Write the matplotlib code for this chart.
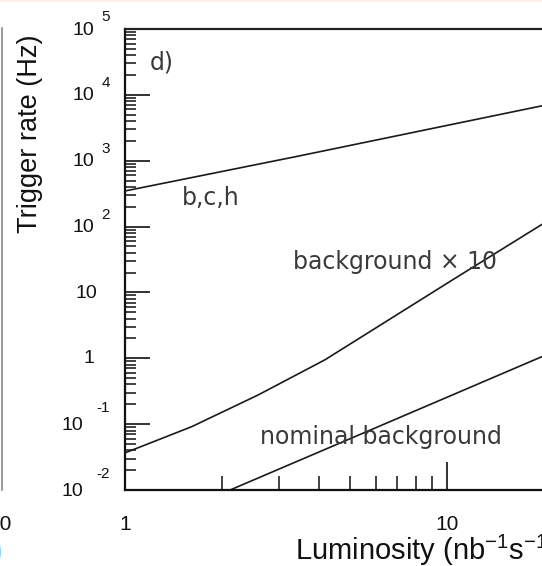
import numpy as np
import matplotlib
matplotlib.use("Agg")
import matplotlib.pyplot as plt
from matplotlib.ticker import LogLocator, NullFormatter
from matplotlib.patches import Rectangle
from matplotlib.lines import Line2D

plt.rcParams['font.family'] = ['Liberation Sans', 'DejaVu Sans']
plt.rcParams['mathtext.fontset'] = 'custom'
plt.rcParams['mathtext.rm'] = 'Liberation Sans'
plt.rcParams['mathtext.it'] = 'Liberation Sans:italic'
plt.rcParams['mathtext.bf'] = 'Liberation Sans:bold'

# ---- data ----
lum_bch = [1.0, 3.48, 19.72]
rate_bch = [347, 1183, 6820]

lum_bg10 = [1.0, 1.61, 2.59, 4.18, 10.4, 19.72]
rate_bg10 = [0.0366, 0.0914, 0.277, 0.95, 15.5, 108]

lum_nom = [2.12, 6.50, 19.72]
rate_nom = [0.01, 0.104, 1.06]

x_limits = [1.0, 19.72]
y_limits = [1e-2, 1e5]
ytick_exponents = [-2, -1, 0, 1, 2, 3, 4, 5]
xtick_values = [1, 10]
xtick_labels = ["1", "10"]

curve_labels = ["b,c,h", "background × 10", "nominal background"]
curve_label_pos = [(1.50, 272), (3.32, 29), (2.63, 0.0638)]
panel_label = "d)"
panel_label_pos = (1.30, 3.15e4)

W, H = 542, 566
fig = plt.figure(figsize=(W / 100, H / 100), dpi=100)
fig.patch.set_facecolor('white')

ax = fig.add_axes([125 / W, (H - 490) / H, (W - 125) / W, 461 / H])
ax.set_xscale('log')
ax.set_yscale('log')
ax.set_xlim(*x_limits)
ax.set_ylim(*y_limits)

for s in ['left', 'bottom']:
    ax.spines[s].set_linewidth(1.6)
    ax.spines[s].set_color('#111111')
ax.spines['top'].set_linewidth(1.6)
ax.spines['top'].set_color('#222222')
ax.spines['right'].set_visible(False)

ax.yaxis.set_major_locator(LogLocator(base=10, numticks=20))
ax.yaxis.set_minor_locator(LogLocator(base=10, subs=np.arange(2, 10), numticks=100))
ax.xaxis.set_major_locator(LogLocator(base=10, numticks=20))
ax.xaxis.set_minor_locator(LogLocator(base=10, subs=np.arange(2, 10), numticks=100))
ax.xaxis.set_minor_formatter(NullFormatter())
ax.yaxis.set_minor_formatter(NullFormatter())

ax.tick_params(axis='y', which='major', direction='in', length=18, width=1.2,
               color='#111111', labelleft=False, right=False)
ax.tick_params(axis='y', which='minor', direction='in', length=8, width=1.1,
               color='#111111', right=False)
ax.tick_params(axis='x', which='major', direction='in', length=20, width=1.2,
               color='#111111', labelbottom=False, top=False)
ax.tick_params(axis='x', which='minor', direction='in', length=10, width=1.1,
               color='#111111', top=False)

# curves
ax.plot(lum_bch, rate_bch, color='#1a1a1a', lw=1.2)
ax.plot(lum_bg10, rate_bg10, color='#1a1a1a', lw=1.2)
ax.plot(lum_nom, rate_nom, color='#1a1a1a', lw=1.2)

txtc = '#3a3a3a'
for lab, (lx, ly) in zip(curve_labels, curve_label_pos):
    ax.text(lx, ly, lab, fontsize=17, family='DejaVu Sans', color=txtc,
            ha='left', va='center')
ax.text(panel_label_pos[0], panel_label_pos[1], panel_label, fontsize=17,
        family='DejaVu Sans', color=txtc, ha='center', va='center')

# y tick labels (10 with raised exponent)
for e in ytick_exponents:
    v = 10.0 ** e
    if e == 0:
        ax.annotate("1", xy=(0, v), xycoords=('axes fraction', 'data'),
                    xytext=(-31, 0), textcoords='offset pixels',
                    ha='right', va='center', fontsize=14, color='#111111')
    elif e == 1:
        ax.annotate("10", xy=(0, v), xycoords=('axes fraction', 'data'),
                    xytext=(-28, -1), textcoords='offset pixels',
                    ha='right', va='center', fontsize=14, color='#111111')
    else:
        base_dx = -31 if e > 0 else -42
        exp_dy = 12 if e > 0 else 16
        ax.annotate("10", xy=(0, v), xycoords=('axes fraction', 'data'),
                    xytext=(base_dx, -1), textcoords='offset pixels',
                    ha='right', va='center', fontsize=14, color='#111111')
        ax.annotate(str(e), xy=(0, v), xycoords=('axes fraction', 'data'),
                    xytext=(-15, exp_dy), textcoords='offset pixels',
                    ha='right', va='center', fontsize=11, color='#111111')

# x tick labels
for xv, xl in zip(xtick_values, xtick_labels):
    ax.annotate(xl, xy=(xv, 0), xycoords=('data', 'axes fraction'),
                xytext=(0, -34), textcoords='offset pixels',
                ha='center', va='center', fontsize=15, color='#111111')

# axis labels
fig.text(295 / W, (H - 560) / H, r'Luminosity (nb$^{-1}$s$^{-1}$)',
         fontsize=21, ha='left', va='baseline', color='#111111')
fig.text(30 / W, (H - 134) / H, 'Trigger rate (Hz)', rotation=90,
         fontsize=19.5, ha='center', va='center', color='#111111')

# remnants of the neighbouring panel on the left
fig.add_artist(Line2D([2 / W, 2 / W], [(H - 28) / H, (H - 490) / H],
                      color='#8a8a8a', lw=1.2))
fig.text(12 / W, (H - 525) / H, '10', fontsize=15, ha='right', va='center',
         color='#111111')
fig.text(3 / W, (H - 560) / H, ')', fontsize=21, ha='right', va='baseline',
         color='#8fcff2')
fig.add_artist(Rectangle((0, (H - 2) / H), 1, 2 / H, transform=fig.transFigure,
                         color='#fcecec', lw=0))

fig.savefig('out.png', dpi=100)
